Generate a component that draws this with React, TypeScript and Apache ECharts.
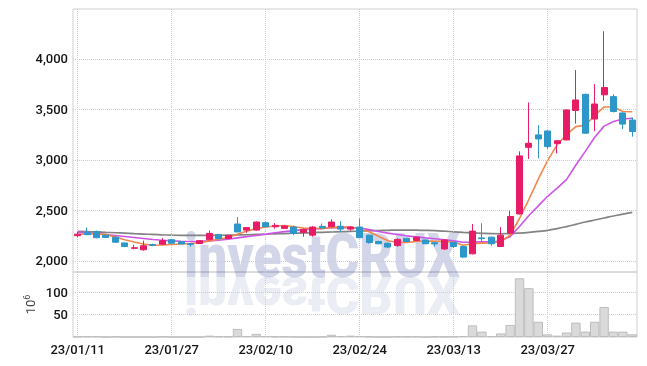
import React, { useEffect, useRef } from "react";
import * as echarts from "echarts";

const dates = [
  "23/01/11","23/01/12","23/01/13","23/01/16","23/01/17","23/01/18","23/01/19","23/01/20","23/01/25","23/01/26",
  "23/01/27","23/01/30","23/01/31","23/02/01","23/02/02","23/02/03","23/02/06","23/02/07","23/02/08","23/02/09",
  "23/02/10","23/02/13","23/02/14","23/02/15","23/02/16","23/02/17","23/02/20","23/02/21","23/02/22","23/02/23",
  "23/02/24","23/02/27","23/02/28","23/03/02","23/03/03","23/03/06","23/03/07","23/03/08","23/03/09","23/03/10",
  "23/03/13","23/03/14","23/03/15","23/03/16","23/03/17","23/03/20","23/03/21","23/03/22","23/03/23","23/03/24",
  "23/03/27","23/03/28","23/03/29","23/03/30","23/03/31","23/04/03","23/04/04","23/04/05","23/04/06","23/04/07",
];

// [open, close, low, high]
const ohlc = [
  [2250,2265,2235,2290],[2280,2260,2255,2330],[2290,2230,2225,2300],[2255,2232,2228,2260],[2235,2185,2180,2240],
  [2178,2142,2140,2180],[2125,2130,2115,2160],[2110,2150,2100,2200],[2162,2155,2145,2170],[2165,2200,2160,2225],
  [2210,2175,2170,2215],[2190,2168,2165,2195],[2170,2163,2140,2175],[2172,2200,2168,2205],[2210,2272,2205,2300],
  [2262,2220,2215,2265],[2222,2252,2218,2258],[2365,2287,2285,2435],[2305,2330,2278,2335],[2305,2385,2300,2390],
  [2378,2338,2330,2392],[2338,2352,2320,2375],[2322,2345,2318,2355],[2335,2272,2255,2350],[2282,2312,2240,2320],
  [2255,2335,2240,2345],[2342,2326,2320,2370],[2338,2385,2330,2412],[2343,2315,2285,2393],[2315,2335,2300,2345],
  [2335,2230,2225,2420],[2255,2182,2170,2260],[2192,2170,2165,2200],[2175,2137,2130,2180],[2152,2213,2140,2225],
  [2225,2192,2188,2230],[2202,2235,2198,2240],[2208,2170,2165,2212],[2180,2168,2142,2185],[2118,2207,2110,2215],
  [2185,2143,2128,2190],[2142,2038,2030,2150],[2070,2295,2065,2365],[2228,2220,2190,2373],[2235,2170,2150,2240],
  [2143,2255,2140,2335],[2275,2440,2270,2495],[2465,3040,2460,3085],[3125,3165,3010,3570],[3248,3208,3015,3345],
  [3287,3132,3110,3290],[3162,3190,3065,3195],[3198,3495,3195,3500],[3490,3594,3360,3890],[3650,3265,3260,3655],
  [3405,3554,3285,3750],[3645,3717,3585,4275],[3627,3480,3470,3650],[3465,3355,3305,3470],[3395,3282,3230,3420],
];

const ma5 = [
  2262,2270,2268,2260,2238,2210,2187,2168,2155,2158,2163,2168,2173,2180,2198,2215,2232,2265,2295,2320,
  2335,2345,2350,2338,2325,2322,2320,2330,2335,2335,2318,2288,2245,2200,2182,2182,2192,2198,2195,2195,
  2185,2155,2170,2176,2178,2192,2255,2420,2610,2810,2995,3150,3250,3330,3345,3440,3525,3525,3480,3478,
];

const ma10 = [
  2285,2280,2272,2262,2252,2242,2232,2222,2212,2205,2198,2194,2192,2193,2198,2205,2215,2228,2240,2252,
  2265,2278,2290,2300,2310,2316,2322,2328,2330,2330,2325,2310,2292,2275,2262,2248,2238,2228,2220,2210,
  2198,2185,2186,2188,2190,2196,2240,2340,2450,2545,2640,2720,2805,2950,3085,3225,3335,3380,3405,3413,
];

const maLong = [
  2293,2290,2287,2283,2279,2275,2270,2266,2262,2258,2255,2253,2252,2252,2252,2253,2255,2257,2259,2262,
  2265,2268,2271,2274,2277,2280,2283,2286,2289,2292,2295,2298,2301,2303,2305,2305,2304,2302,2299,2294,
  2288,2282,2277,2273,2270,2269,2271,2276,2283,2292,2303,2320,2340,2362,2385,2405,2425,2445,2463,2480,
];

const volume = [
  1,1.5,1.5,0,1,0,0,0,0,1,
  0,0,0,0,3,1.5,1,18,2,7,
  2,1,1,0.5,0,0,0.5,5,2,3,
  2,1,0,0,1,1,1,0,1,0.5,
  1,2,26,12,2,8,27,131,109,34,
  6,3,10,32,12,34,67,12,12,6,
];

const priceTicks = [2000, 2500, 3000, 3500, 4000];
const volumeTicks = [50, 100];
const labelIdx = [0, 10, 20, 30, 40, 50];

const FONT = "Roboto, sans-serif";
const GRID_LINE = { type: "dotted", color: "#c6cbe0", width: 1 };
const LABEL = { fontFamily: FONT, fontSize: 13, color: "#151515", fontWeight: 500 };

export default function App() {
  const ref = useRef<HTMLDivElement>(null);
  useEffect(() => {
    if (!ref.current) return;
    const chart = echarts.init(ref.current, null, { renderer: "svg" });
    const vLines = labelIdx.map((i) => ({ xAxis: dates[i] }));
    const wmText = (fill: string) => ({
      type: "text",
      x: 0,
      y: -21,
      style: {
        text: "investCRUX",
        font: "900 62px Roboto, sans-serif",
        fill,
        align: "center",
        verticalAlign: "middle",
      },
    });
    chart.setOption({
      animation: false,
      graphic: [
        { type: "group", x: 322, y: 277, scaleX: 0.83, z: 100, silent: true, children: [wmText("rgba(30,50,140,0.2)")] },
        { type: "group", x: 322, y: 277, scaleX: 0.83, scaleY: -0.85, z: 100, silent: true, children: [wmText("rgba(30,50,140,0.09)")] },
      ],
      grid: [
        { left: 73, right: 10, top: 9, height: 263, show: true, borderColor: "#cfcfd4", borderWidth: 1 },
        { left: 73, right: 10, top: 272, height: 65, show: true, borderColor: "#cfcfd4", borderWidth: 1 },
      ],
      xAxis: [
        {
          type: "category", gridIndex: 0, data: dates, boundaryGap: true,
          axisLine: { show: false }, axisTick: { show: false }, axisLabel: { show: false }, splitLine: { show: false },
        },
        {
          type: "category", gridIndex: 1, data: dates, boundaryGap: true,
          axisLine: { show: false }, axisTick: { show: false }, splitLine: { show: false },
          axisLabel: { interval: 9, margin: 6, ...LABEL },
        },
      ],
      yAxis: [
        {
          type: "value", gridIndex: 0, min: 1890, max: 4495,
          axisLine: { show: false },
          axisTick: { show: false, customValues: priceTicks },
          axisLabel: {
            customValues: priceTicks, margin: 5, ...LABEL,
            formatter: (v: number) => v.toLocaleString("en-US"),
          },
          splitLine: { show: true, lineStyle: GRID_LINE },
        },
        {
          type: "value", gridIndex: 1, min: 0, max: 145,
          name: "10{s|6}", nameLocation: "middle", nameRotate: 90, nameGap: 34, nameMoveOverlap: false,
          nameTextStyle: {
            fontFamily: FONT, fontSize: 13, color: "#444",
            rich: { s: { fontFamily: FONT, fontSize: 9, color: "#444", padding: [0, 0, 8, 0] } },
          },
          axisLine: { show: false },
          axisTick: { show: false, customValues: volumeTicks },
          axisLabel: { customValues: volumeTicks, margin: 5, ...LABEL },
          splitLine: { show: true, lineStyle: GRID_LINE },
        },
      ],
      series: [
        {
          type: "line", xAxisIndex: 0, yAxisIndex: 0, data: maLong, showSymbol: false, smooth: true, z: 2,
          lineStyle: { color: "#838383", width: 1.7 },
        },
        {
          type: "line", xAxisIndex: 0, yAxisIndex: 0, data: ma10, showSymbol: false, z: 3,
          lineStyle: { color: "#cc55e8", width: 1.6 },
        },
        {
          type: "line", xAxisIndex: 0, yAxisIndex: 0, data: ma5, showSymbol: false, z: 4,
          lineStyle: { color: "#f0874c", width: 1.6 },
        },
        {
          type: "candlestick", xAxisIndex: 0, yAxisIndex: 0, data: ohlc, barWidth: "70%", z: 5,
          itemStyle: { color: "#e81c66", color0: "#2c97c8", borderColor: "#e81c66", borderColor0: "#2c97c8", borderWidth: 1 },
          markLine: {
            silent: true, symbol: "none", label: { show: false }, lineStyle: GRID_LINE, data: vLines,
          },
        },
        {
          type: "bar", xAxisIndex: 1, yAxisIndex: 1, data: volume, barCategoryGap: "0%",
          itemStyle: { color: "#dadada", borderColor: "#bdbdbd", borderWidth: 1 },
          markLine: {
            silent: true, symbol: "none", label: { show: false }, lineStyle: GRID_LINE, data: vLines,
          },
        },
      ],
    });
    return () => chart.dispose();
  }, []);
  return <div ref={ref} style={{ position: "fixed", left: 0, top: 0, width: 647, height: 366 }} />;
}
